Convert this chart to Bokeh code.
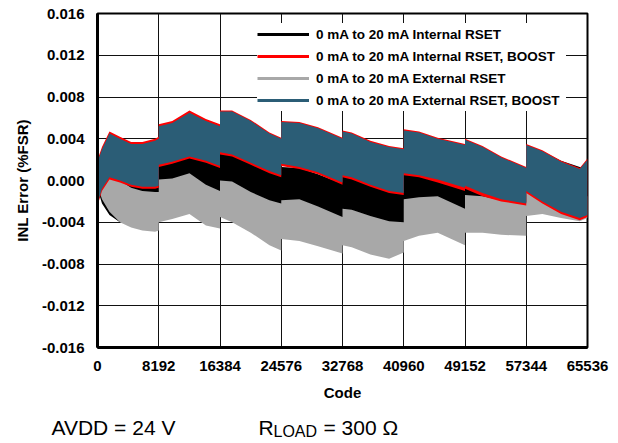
from bokeh.plotting import figure
from bokeh.layouts import column
from bokeh.models import (Range1d, FixedTicker, PrintfTickFormatter, Legend, LegendItem, Label)
from bokeh.embed import file_html
from bokeh.resources import INLINE

# ---- data (envelopes of the INL error bands) ----
code = [0, 600, 1600, 3000, 4500, 6000, 7700, 8191, 8192, 10000, 12300, 14500, 16383, 16384,
        18000, 20500, 23000, 24575, 24576, 27000, 29500, 32767, 32768, 34000, 36500, 39000,
        40959, 40960, 43000, 45500, 49151, 49152, 51500, 54000, 57343, 57344, 59500, 62000,
        64500, 65535]

int_hi = [0.0000, 0.0008, 0.0012, 0.0007, 0.0003, 0.0002, 0.0003, 0.0004, 0.0017, 0.0020,
          0.0027, 0.0020, 0.0016, 0.0033, 0.0030, 0.0020, 0.0008, 0.0004, 0.0013, 0.0012,
          0.0006, -0.0003, 0.0006, 0.0004, -0.0002, -0.0008, -0.0010, 0.0008, 0.0007, 0.0003,
          -0.0009, -0.0003, -0.0010, -0.0016, -0.0018, 0.0030, 0.0028, 0.0019, 0.0013, 0.0012]
int_lo = [-0.0008, -0.0022, -0.0033, -0.0040, -0.0020, -0.0020, -0.0020, -0.0020, -0.0010, -0.0010,
          -0.0005, -0.0015, -0.0020, -0.0010, -0.0010, -0.0020, -0.0028, -0.0030, -0.0028, -0.0027,
          -0.0033, -0.0043, -0.0035, -0.0036, -0.0042, -0.0047, -0.0048, -0.0026, -0.0024, -0.0023,
          -0.0035, -0.0022, -0.0023, -0.0027, -0.0029, -0.0008, -0.0012, -0.0018, -0.0023, -0.0023]

ext_hi = [0.0012, 0.0010, 0.0007, 0.0000, -0.0007, -0.0010, -0.0011, -0.0011, 0.0001, 0.0002,
          0.0007, -0.0004, -0.0010, 0.0000, -0.0001, -0.0011, -0.0019, -0.0022, -0.0019, -0.0018,
          -0.0025, -0.0035, -0.0027, -0.0028, -0.0034, -0.0039, -0.0040, -0.0018, -0.0016, -0.0015,
          -0.0027, -0.0014, -0.0015, -0.0019, -0.0021, 0.0000, -0.0004, -0.0010, -0.0015, -0.0015]
ext_lo = [-0.0005, -0.0018, -0.0030, -0.0040, -0.0045, -0.0048, -0.0049, -0.0048, -0.0040, -0.0037,
          -0.0032, -0.0043, -0.0046, -0.0035, -0.0040, -0.0050, -0.0062, -0.0067, -0.0056, -0.0058,
          -0.0063, -0.0070, -0.0062, -0.0064, -0.0071, -0.0075, -0.0069, -0.0058, -0.0053, -0.0050,
          -0.0062, -0.0050, -0.0050, -0.0052, -0.0053, -0.0034, -0.0032, -0.0036, -0.0039, -0.0036]

int_boost_hi = [0.0020, 0.0032, 0.0047, 0.0042, 0.0037, 0.0037, 0.0040, 0.0042, 0.0054, 0.0057,
                0.0067, 0.0059, 0.0054, 0.0067, 0.0067, 0.0058, 0.0046, 0.0041, 0.0057, 0.0056,
                0.0051, 0.0041, 0.0048, 0.0046, 0.0038, 0.0033, 0.0031, 0.0049, 0.0047, 0.0041,
                0.0035, 0.0040, 0.0033, 0.0023, 0.0013, 0.0035, 0.0029, 0.0019, 0.0012, 0.0021]
int_boost_lo = [-0.0024, -0.0010, 0.0001, -0.0002, -0.0006, -0.0008, -0.0008, -0.0007, 0.0013, 0.0016,
                0.0021, 0.0017, 0.0012, 0.0025, 0.0023, 0.0015, 0.0007, 0.0003, 0.0014, 0.0011,
                0.0006, -0.0004, 0.0003, 0.0001, -0.0006, -0.0012, -0.0014, 0.0005, 0.0003, -0.0002,
                -0.0010, -0.0008, -0.0015, -0.0020, -0.0024, -0.0012, -0.0022, -0.0032, -0.0038, -0.0035]

ext_boost_hi = [0.0018, 0.0030, 0.0045, 0.0040, 0.0035, 0.0035, 0.0038, 0.0040, 0.0052, 0.0055,
                0.0065, 0.0057, 0.0052, 0.0066, 0.0066, 0.0057, 0.0045, 0.0040, 0.0056, 0.0055,
                0.0050, 0.0040, 0.0047, 0.0045, 0.0037, 0.0032, 0.0030, 0.0048, 0.0046, 0.0040,
                0.0034, 0.0039, 0.0032, 0.0022, 0.0012, 0.0034, 0.0028, 0.0018, 0.0011, 0.0020]
ext_boost_lo = [-0.0022, -0.0008, 0.0003, 0.0000, -0.0004, -0.0006, -0.0006, -0.0005, 0.0015, 0.0018,
                0.0023, 0.0019, 0.0014, 0.0027, 0.0025, 0.0017, 0.0009, 0.0005, 0.0016, 0.0013,
                0.0008, -0.0002, 0.0005, 0.0003, -0.0004, -0.0010, -0.0012, 0.0007, 0.0005, 0.0001,
                -0.0007, -0.0005, -0.0012, -0.0018, -0.0022, -0.0010, -0.0020, -0.0030, -0.0036, -0.0033]

labels = ["0 mA to 20 mA Internal RSET", "0 mA to 20 mA Internal RSET, BOOST",
          "0 mA to 20 mA External RSET", "0 mA to 20 mA External RSET, BOOST"]
colors = ["#000000", "#ff0000", "#a8a8a8", "#2b5d76"]

x_ticks = [0, 8192, 16384, 24576, 32768, 40960, 49152, 57344, 65536]
y_ticks = [-0.016, -0.012, -0.008, -0.004, 0.0, 0.004, 0.008, 0.012, 0.016]

FONT = "Liberation Sans"

p = figure(width=618, height=405, output_backend="svg", toolbar_location=None,
           x_range=Range1d(0, 65536), y_range=Range1d(-0.016, 0.016),
           min_border_left=97, min_border_right=31, min_border_top=13, min_border_bottom=58)
p.frame_align = False
p.background_fill_color = "white"
p.outline_line_color = "black"
p.outline_line_width = 2

# bands: draw order black, gray, red, blue
bands = [(int_hi, int_lo, 0), (ext_hi, ext_lo, 2), (int_boost_hi, int_boost_lo, 1),
         (ext_boost_hi, ext_boost_lo, 3)]
for hi, lo, ci in bands:
    p.varea(x=code, y1=lo, y2=hi, fill_color=colors[ci], fill_alpha=1.0)

# legend proxies (hidden lines drawn from the same data)
items = []
for i, (hi, lo) in enumerate([(int_hi, int_lo), (int_boost_hi, int_boost_lo),
                               (ext_hi, ext_lo), (ext_boost_hi, ext_boost_lo)]):
    r = p.line(x=code, y=hi, line_color=colors[i], line_width=3, visible=False)
    items.append(LegendItem(label=labels[i], renderers=[r]))

legend = Legend(items=items, location=(160, 236), orientation="vertical")
legend.padding = 0
legend.margin = 0
legend.spacing = 0
legend.glyph_width = 52
legend.glyph_height = 22
legend.label_height = 22
legend.label_width = 250
legend.label_standoff = 7
legend.label_text_font = FONT
legend.label_text_font_style = "bold"
legend.label_text_font_size = "13.5px"
legend.label_text_color = "black"
legend.border_line_color = None
legend.background_fill_color = "white"
legend.background_fill_alpha = 1.0
legend.inactive_fill_alpha = 0.0
p.add_layout(legend, "center")

# axes
for ax in (p.xaxis[0], p.yaxis[0]):
    ax.axis_line_width = 3
    ax.axis_line_color = "black"
    ax.major_tick_out = 0
    ax.major_tick_in = 0
    ax.minor_tick_out = 0
    ax.minor_tick_in = 0
    ax.major_label_text_font = FONT
    ax.major_label_text_font_style = "bold"
    ax.major_label_text_font_size = "15px"
    ax.major_label_text_color = "black"
    ax.axis_label_text_font = FONT
    ax.axis_label_text_font_style = "bold"
    ax.axis_label_text_font_size = "15px"
    ax.axis_label_text_color = "black"

p.xaxis.ticker = FixedTicker(ticks=x_ticks)
p.yaxis.ticker = FixedTicker(ticks=y_ticks)
p.xaxis.formatter = PrintfTickFormatter(format="%d")
p.yaxis.formatter = PrintfTickFormatter(format="%.3f")
p.xaxis.axis_label = "Code"
p.yaxis.axis_label = "INL Error (%FSR)"
p.xaxis.major_label_standoff = 13
p.yaxis.major_label_standoff = 13
p.xaxis.axis_label_standoff = 10
p.yaxis.axis_label_standoff = 8

p.xgrid.ticker = FixedTicker(ticks=x_ticks)
p.ygrid.ticker = FixedTicker(ticks=y_ticks)
for g in (p.xgrid[0], p.ygrid[0]):
    g.grid_line_color = "#111111"
    g.grid_line_width = 1

# conditions text below the chart (a small text-only figure)
t = figure(width=618, height=38, output_backend="svg", toolbar_location=None,
           x_range=Range1d(0, 618), y_range=Range1d(0, 38),
           min_border_left=0, min_border_right=0, min_border_top=0, min_border_bottom=0)
t.frame_align = False
t.axis.visible = False
t.grid.visible = False
t.outline_line_color = None
t.background_fill_color = "white"
t.add_layout(Label(x=51, y=16, text="AVDD = 24 V", text_font=FONT, text_font_size="21px",
                   text_color="black", text_baseline="alphabetic"))
t.add_layout(Label(x=258, y=16, text="R", text_font=FONT, text_font_size="21px",
                   text_color="black", text_baseline="alphabetic"))
t.add_layout(Label(x=273, y=12, text="LOAD", text_font=FONT, text_font_size="16px",
                   text_color="black", text_baseline="alphabetic"))
t.add_layout(Label(x=323, y=16, text="= 300 \u03a9", text_font=FONT, text_font_size="21px",
                   text_color="black", text_baseline="alphabetic"))

layout = column(p, t, spacing=0)
open("out.html", "w").write(file_html(layout, INLINE))
